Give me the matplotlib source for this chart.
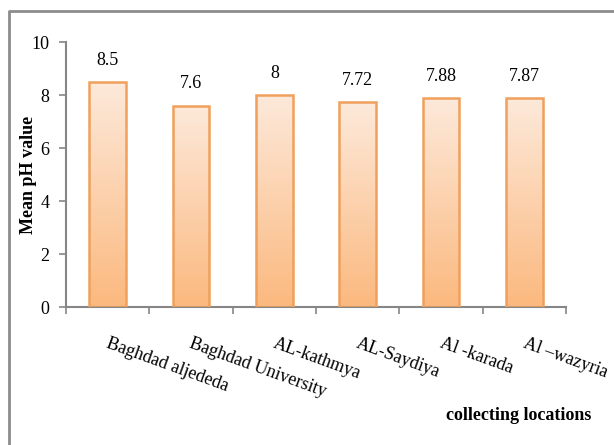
import numpy as np
import matplotlib
matplotlib.use("Agg")
import matplotlib.pyplot as plt
from matplotlib.colors import LinearSegmentedColormap
from matplotlib.patches import Rectangle
from matplotlib.lines import Line2D

plt.rcParams['font.family'] = ['Liberation Serif', 'DejaVu Serif']

locations = ['Baghdad aljededa', 'Baghdad University', 'AL-kathmya',
             'AL-Saydiya', 'Al -karada', 'Al \u2013wazyria']
mean_ph = [8.5, 7.6, 8, 7.72, 7.88, 7.87]
value_labels = ['8.5', '7.6', '8', '7.72', '7.88', '7.87']

fig = plt.figure(figsize=(6.14, 4.45), dpi=100)
ax = fig.add_axes([0.1075, 0.3101, 0.8143, 0.5955])

# light peach at the top fading into orange at the bottom
grad = LinearSegmentedColormap.from_list('peach', ['#fbb97f', '#fde9da'])
width = 0.44
x = np.arange(len(locations))
for xi, v, lab in zip(x, mean_ph, value_labels):
    x0 = xi - width / 2
    img = ax.imshow(np.linspace(0, 1, 100).reshape(-1, 1), cmap=grad,
                    extent=[x0, x0 + width, 0, v], origin='lower',
                    aspect='auto', zorder=2)
    rect = Rectangle((x0, 0), width, v, facecolor='none',
                     edgecolor='#f0a05c', linewidth=1.8, zorder=3)
    ax.add_patch(rect)
    img.set_clip_path(rect)
    ax.text(xi, v + 0.5, lab, ha='center', va='bottom', fontsize=13)

ax.set_xlim(-0.5, len(locations) - 0.5)
ax.set_ylim(0, 10)
ax.set_yticks(range(0, 11, 2))
ax.set_xticks(np.arange(len(locations) + 1) - 0.5)
ax.set_xticklabels([])
ax.tick_params(axis='both', colors='#868686', labelcolor='black',
               labelsize=13, length=5, width=1.2)
ax.tick_params(axis='y', pad=7)

for name in ['top', 'right']:
    ax.spines[name].set_visible(False)
for name in ['left', 'bottom']:
    ax.spines[name].set_color('#868686')
    ax.spines[name].set_linewidth(1.5)

# slanted category names under the axis
for xi, name in zip(x, locations):
    ax.annotate(name, xy=(xi, 0), xycoords='data',
                xytext=(1.5, -20), textcoords='offset points',
                rotation=-20, rotation_mode='anchor',
                ha='left', va='top', fontsize=13)

ax.set_ylabel('Mean pH value', fontsize=13, fontweight='bold')
ax.yaxis.set_label_coords(-0.058, 0.5)
fig.text(0.844, 0.066, 'collecting locations', ha='center', va='center',
         fontsize=13, fontweight='bold')

# chart area frame (left and top edges)
fig.add_artist(Line2D([0.0147, 0.0147, 1.0], [0.0, 0.9753, 0.9753],
                      transform=fig.transFigure, color='#8c8c8c', linewidth=2))

fig.savefig('out.png', dpi=100)
